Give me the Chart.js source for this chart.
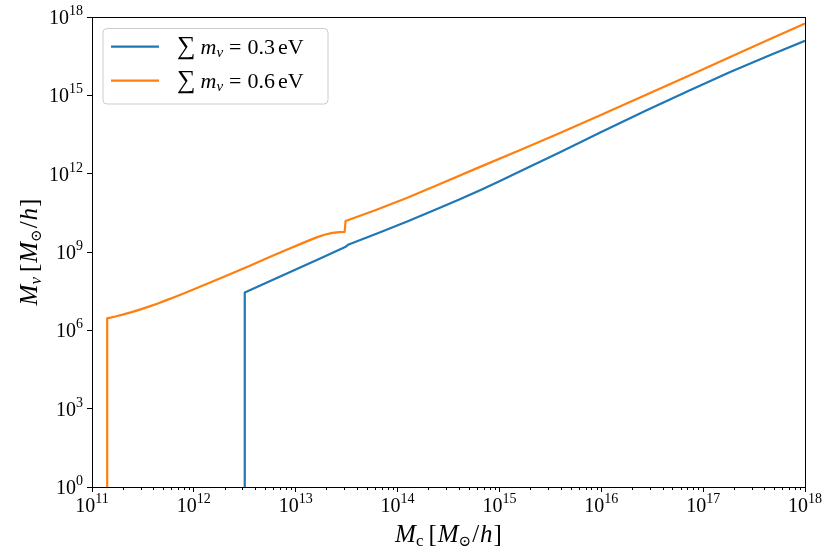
<!DOCTYPE html>
<html>
<head>
<meta charset="utf-8">
<script src="https://cdn.jsdelivr.net/npm/chart.js@4.4.1/dist/chart.umd.min.js"></script>
<style>
  html, body { margin: 0; padding: 0; background: #fff; }
  #wrap { width: 830px; height: 554px; position: relative; }
</style>
</head>
<body>
<div id="wrap"><canvas id="chart"></canvas></div>
<script>
// halo mass M_c and neutrino halo mass M_nu (both in M_sun/h)
const mc03 = [3.16e12, 3.16e12, 5.62e12, 1.0e13, 1.78e13, 3.06e13, 3.31e13, 6.76e13,
  1.26e14, 2.34e14, 3.98e14, 6.46e14, 1.0e15, 1.58e15, 3.98e15, 9.77e15, 2.69e16,
  7.41e16, 1.82e17, 4.27e17, 1e18];
const mnu03 = [1, 2.82e7, 7.76e7, 2.14e8, 5.89e8, 1.55e9, 1.95e9, 5.75e9,
  1.51e10, 4.17e10, 1.0e11, 2.34e11, 5.13e11, 1.2e12, 6.76e12, 3.8e13, 2.51e14,
  1.58e15, 7.59e15, 3.16e16, 1.23e17];

const mc06 = [1.41e11, 1.41e11, 1.7e11, 2.04e11, 2.45e11, 2.95e11, 3.55e11, 4.37e11,
  5.25e11, 6.31e11, 7.59e11, 9.23e11, 1.35e12, 1.95e12, 3.55e12, 5.41e12, 7.94e12,
  1.15e13, 1.58e13, 1.91e13, 2.29e13, 2.69e13, 3.02e13,
  3.09e13, 6.03e13, 1.23e14, 2.82e14, 6.46e14, 1.58e15, 3.98e15, 9.77e15, 2.69e16,
  7.41e16, 1.82e17, 4.27e17, 1e18];
const mnu06 = [1, 2.88e6, 3.39e6, 4.07e6, 4.98e6, 6.22e6, 7.91e6, 1.05e7,
  1.37e7, 1.81e7, 2.41e7, 3.28e7, 6.05e7, 1.11e8, 3.0e8, 6.1e8, 1.16e9,
  2.14e9, 3.55e9, 4.57e9, 5.37e9, 5.75e9, 5.89e9,
  1.55e10, 3.98e10, 1.17e11, 4.57e11, 1.82e12, 7.94e12, 3.72e13, 1.74e14, 1.0e15,
  5.89e15, 2.88e16, 1.29e17, 5.62e17];

const sumMnu = ["0.3", "0.6"];
const xTicks = [1e11, 1e12, 1e13, 1e14, 1e15, 1e16, 1e17, 1e18];
const yTicks = [1e0, 1e3, 1e6, 1e9, 1e12, 1e15, 1e18];

const SERIF = '"Liberation Serif", "DejaVu Serif", serif';

function font(size, italic) {
  return (italic ? "italic " : "") + size + "px " + SERIF;
}

function richWidth(ctx, parts) {
  let w = 0;
  parts.forEach(p => {
    ctx.font = font(p.size, p.it);
    w += ctx.measureText(p.t).width + (p.gap || 0);
  });
  return w;
}

// draws a run of text pieces (italic, sub/superscripts) on one baseline
function drawRich(ctx, parts, x, y, align) {
  const w = richWidth(ctx, parts);
  let cx = x;
  if (align === "center") cx = x - w / 2;
  if (align === "right") cx = x - w;
  ctx.textAlign = "left";
  ctx.textBaseline = "alphabetic";
  ctx.fillStyle = "#000";
  parts.forEach(p => {
    ctx.font = font(p.size, p.it);
    ctx.fillText(p.t, cx, y + (p.dy || 0));
    cx += ctx.measureText(p.t).width + (p.gap || 0);
  });
}

function powLabel(v) {
  const e = Math.round(Math.log10(v));
  return [{ t: "10", size: 20 }, { t: String(e), size: 14, dy: -9 }];
}

function massTitle(sub, subItalic) {
  return [
    { t: "M", size: 25, it: true },
    { t: sub, size: 17, it: subItalic, dy: 4, gap: 5 },
    { t: "[", size: 25, gap: 1 },
    { t: "M", size: 25, it: true },
    { t: "\u2299", size: 15, dy: 4, gap: 1 },
    { t: "/", size: 25, gap: 1 },
    { t: "h", size: 25, it: true, gap: 1 },
    { t: "]", size: 25 }
  ];
}

const decorations = {
  id: "decorations",
  afterDatasetsDraw(chart) {
    const ctx = chart.ctx;
    const area = chart.chartArea;
    const x = chart.scales.x;
    const y = chart.scales.y;
    ctx.save();

    // frame
    ctx.strokeStyle = "#000";
    ctx.lineWidth = 1;
    ctx.strokeRect(Math.round(area.left) + 0.5, Math.round(area.top) + 0.5,
      Math.round(area.right - area.left), Math.round(area.bottom - area.top));

    // minor ticks on the x axis
    ctx.beginPath();
    for (let n = 11; n < 18; n++) {
      for (let k = 2; k <= 9; k++) {
        const px = Math.round(x.getPixelForValue(k * Math.pow(10, n))) + 0.5;
        ctx.moveTo(px, area.bottom);
        ctx.lineTo(px, area.bottom + 3);
      }
    }
    ctx.stroke();

    // tick labels
    xTicks.forEach(v => drawRich(ctx, powLabel(v), x.getPixelForValue(v), area.bottom + 25, "center"));
    yTicks.forEach(v => drawRich(ctx, powLabel(v), area.left - 9, y.getPixelForValue(v) + 7, "right"));

    // axis titles
    drawRich(ctx, massTitle("c", false), (area.left + area.right) / 2, 542, "center");
    ctx.save();
    ctx.translate(37, (area.top + area.bottom) / 2);
    ctx.rotate(-Math.PI / 2);
    drawRich(ctx, massTitle("\u03bd", true), 0, 0, "center");
    ctx.restore();

    // legend
    const bx = 103, by = 28.5, bw = 225, bh = 75.5, r = 4;
    ctx.beginPath();
    ctx.moveTo(bx + r, by);
    ctx.arcTo(bx + bw, by, bx + bw, by + bh, r);
    ctx.arcTo(bx + bw, by + bh, bx, by + bh, r);
    ctx.arcTo(bx, by + bh, bx, by, r);
    ctx.arcTo(bx, by, bx + bw, by, r);
    ctx.closePath();
    ctx.fillStyle = "rgba(255,255,255,0.8)";
    ctx.fill();
    ctx.strokeStyle = "#cccccc";
    ctx.stroke();

    chart.data.datasets.forEach((ds, i) => {
      const rowY = 46.7 + i * 34;
      ctx.beginPath();
      ctx.strokeStyle = ds.borderColor;
      ctx.lineWidth = 2.2;
      ctx.moveTo(111, rowY);
      ctx.lineTo(159, rowY);
      ctx.stroke();
      drawRich(ctx, [
        { t: "\u2211", size: 26, gap: 5 },
        { t: "m", size: 22, it: true },
        { t: "\u03bd", size: 15, it: true, dy: 3, gap: 6 },
        { t: "=", size: 22, gap: 6 },
        { t: sumMnu[i], size: 22, gap: 3 },
        { t: "eV", size: 22 }
      ], 177, rowY + 7, "left");
    });

    ctx.restore();
  }
};

new Chart(document.getElementById("chart"), {
  type: "scatter",
  data: {
    datasets: [
      {
        label: "\u2211 m\u03bd = " + sumMnu[0] + " eV",
        data: mc03.map((v, i) => ({ x: v, y: mnu03[i] })),
        borderColor: "#1f77b4",
        backgroundColor: "#1f77b4"
      },
      {
        label: "\u2211 m\u03bd = " + sumMnu[1] + " eV",
        data: mc06.map((v, i) => ({ x: v, y: mnu06[i] })),
        borderColor: "#ff7f0e",
        backgroundColor: "#ff7f0e"
      }
    ]
  },
  options: {
    responsive: true,
    maintainAspectRatio: false,
    animation: false,
    showLine: true,
    elements: {
      point: { radius: 0, hoverRadius: 0 },
      line: { borderWidth: 2.2, tension: 0, borderCapStyle: "butt", borderJoinStyle: "round" }
    },
    layout: { padding: { left: 0, right: 25, top: 17, bottom: 0 } },
    plugins: {
      legend: { display: false },
      tooltip: { enabled: false }
    },
    scales: {
      x: {
        type: "logarithmic",
        min: 1e11,
        max: 1e18,
        afterBuildTicks: s => { s.ticks = xTicks.map(v => ({ value: v })); },
        afterFit: s => { s.height = 67; },
        ticks: { display: false },
        grid: { display: true, drawOnChartArea: false, drawTicks: true, tickLength: 5, tickColor: "#000", tickWidth: 1 },
        border: { display: true, color: "#000", width: 1 }
      },
      y: {
        type: "logarithmic",
        min: 1,
        max: 1e18,
        afterBuildTicks: s => { s.ticks = yTicks.map(v => ({ value: v })); },
        afterFit: s => { s.width = 92; },
        ticks: { display: false },
        grid: { display: true, drawOnChartArea: false, drawTicks: true, tickLength: 5, tickColor: "#000", tickWidth: 1 },
        border: { display: true, color: "#000", width: 1 }
      }
    }
  },
  plugins: [decorations]
});
</script>
</body>
</html>
